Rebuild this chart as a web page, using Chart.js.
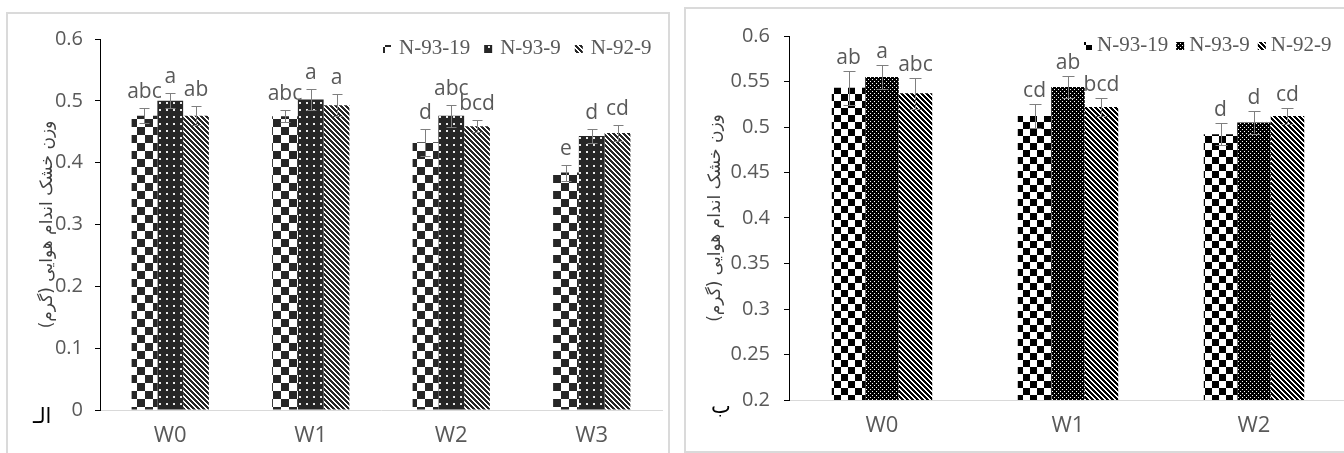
<!DOCTYPE html>
<html lang="fa">
<head>
  <meta charset="UTF-8" />
  <title>وزن خشک اندام هوایی</title>
  <script src="https://cdn.jsdelivr.net/npm/chart.js@4"></script>
  <style>
    body { margin: 0; background: #fff; width: 1344px; height: 453px; overflow: hidden; position: relative; }
    .frame { position: absolute; border: 2px solid #dadada; background: #fff; }
    #frameA { left: 6px; top: 12px; width: 660px; height: 460px; }
    #frameB { left: 684px; top: 7px; width: 700px; height: 442px; }
    canvas { position: absolute; }
    #chartA { left: 9px; top: 15px; }
    #chartB { left: 687px; top: 10px; }
    .corner { position: absolute; font-family: "DejaVu Sans", sans-serif; font-size: 21px; color: #000; }
  </style>
</head>
<body>
  <div class="frame" id="frameA"></div>
  <div class="frame" id="frameB"></div>
  <canvas id="chartA" width="659" height="438"></canvas>
  <canvas id="chartB" width="670" height="440"></canvas>
  <div class="corner" style="left:33px; top:404px;">الـ</div>
  <div class="corner" style="left:711px; top:394px;">ب</div>

  <script>
    const seriesNames = ["N-93-19", "N-93-9", "N-92-9"];
    const yTitle = "وزن خشک اندام هوایی (گرم)";

    // chart A (الف)
    const categoriesA = ["W0", "W1", "W2", "W3"];
    const a_n9319 = [0.476, 0.475, 0.433, 0.384];
    const a_n939  = [0.500, 0.502, 0.476, 0.443];
    const a_n929  = [0.476, 0.493, 0.459, 0.448];
    const a_err_n9319 = [0.012, 0.010, 0.022, 0.013];
    const a_err_n939  = [0.012, 0.017, 0.018, 0.011];
    const a_err_n929  = [0.015, 0.018, 0.010, 0.013];
    const a_let_n9319 = ["abc", "abc", "d", "e"];
    const a_let_n939  = ["a", "a", "abc", "d"];
    const a_let_n929  = ["ab", "a", "bcd", "cd"];
    const a_ticks = [0, 0.6, 0.1];

    // chart B (ب)
    const categoriesB = ["W0", "W1", "W2"];
    const b_n9319 = [0.543, 0.512, 0.492];
    const b_n939  = [0.555, 0.544, 0.505];
    const b_n929  = [0.537, 0.522, 0.512];
    const b_err_n9319 = [0.019, 0.013, 0.012];
    const b_err_n939  = [0.013, 0.012, 0.013];
    const b_err_n929  = [0.017, 0.010, 0.009];
    const b_let_n9319 = ["ab", "cd", "d"];
    const b_let_n939  = ["a", "ab", "d"];
    const b_let_n929  = ["abc", "bcd", "cd"];
    const b_ticks = [0.2, 0.6, 0.05];

    // pixel patterns (Excel-like fills)
    function makePattern(size, fn) {
      const c = document.createElement("canvas");
      c.width = c.height = size;
      const g = c.getContext("2d");
      const img = g.createImageData(size, size);
      for (let y = 0; y < size; y++) {
        for (let x = 0; x < size; x++) {
          const v = fn(x, y);
          const i = (y * size + x) * 4;
          img.data[i] = img.data[i + 1] = img.data[i + 2] = v;
          img.data[i + 3] = 255;
        }
      }
      g.putImageData(img, 0, 0);
      return g.createPattern(c, "repeat");
    }
    const checker = (cell, dark) => makePattern(cell * 2, (x, y) =>
      (Math.floor(x / cell) + Math.floor(y / cell)) % 2 === 0 ? dark : 255);
    const stripes = (p, w, dark) => makePattern(p, (x, y) =>
      (((x - y) % p) + p) % p < w ? dark : 255);

    const fillsA = [
      checker(8, 38),
      makePattern(7, (x, y) => (x >= 3 && x <= 4 && y >= 3 && y <= 4) ? 235 : 38),
      stripes(5, 3, 38)
    ];
    const fillsB = [
      checker(7, 0),
      makePattern(4, (x, y) => ((x === 1 && y === 1) || (x === 3 && y === 3)) ? 255 : 0),
      stripes(5, 3, 0)
    ];

    const errorBars = {
      id: "errorBars",
      afterDatasetsDraw(chart, args, o) {
        const { ctx } = chart;
        const y = chart.scales.y;
        chart.data.datasets.forEach((ds, i) => {
          const meta = chart.getDatasetMeta(i);
          meta.data.forEach((bar, j) => {
            const v = ds.data[j], e = o.errors[i][j];
            const yt = Math.round(y.getPixelForValue(v + e)) + 0.5;
            const yb = Math.round(y.getPixelForValue(v - e)) + 0.5;
            const x = Math.round(bar.x) + 0.5;
            ctx.save();
            ctx.strokeStyle = "#7f7f7f";
            ctx.lineWidth = 1;
            ctx.beginPath();
            ctx.moveTo(x, yt); ctx.lineTo(x, yb);
            ctx.moveTo(x - o.cap, yt); ctx.lineTo(x + o.cap, yt);
            ctx.moveTo(x - o.cap, yb); ctx.lineTo(x + o.cap, yb);
            ctx.stroke();
            ctx.fillStyle = "#595959";
            ctx.font = "21px 'Open Sans', sans-serif";
            ctx.textAlign = "center";
            ctx.textBaseline = "alphabetic";
            ctx.fillText(o.letters[i][j], bar.x, yt - o.gap);
            ctx.restore();
          });
        });
      }
    };

    const plotLegend = {
      id: "plotLegend",
      afterDraw(chart, args, o) {
        const { ctx } = chart;
        ctx.save();
        ctx.font = "21px 'Liberation Serif', serif";
        ctx.textBaseline = "middle";
        let x = o.left;
        chart.data.datasets.forEach(ds => {
          ctx.fillStyle = ds.backgroundColor;
          ctx.fillRect(x, o.y - 3, 8, 8);
          ctx.fillStyle = "#595959";
          ctx.fillText(ds.label, x + o.textGap, o.y);
          x += o.textGap + ctx.measureText(ds.label).width + o.spacing;
        });
        ctx.restore();
      }
    };

    function fmt(v) { return String(Number(v.toFixed(2))); }

    function buildChart(id, cats, series, fills, errors, letters, ticks, cfg) {
      return new Chart(document.getElementById(id), {
        type: "bar",
        data: {
          labels: cats,
          datasets: series.map((d, i) => ({
            label: seriesNames[i],
            data: d,
            backgroundColor: fills[i],
            borderWidth: 0,
            barPercentage: 1,
            categoryPercentage: cfg.catPct
          }))
        },
        plugins: [errorBars, plotLegend],
        options: {
          responsive: false,
          animation: false,
          devicePixelRatio: 1,
          layout: { padding: { left: 0, top: cfg.top, right: cfg.right, bottom: 0 } },
          plugins: {
            legend: { display: false },
            tooltip: { enabled: false },
            errorBars: { errors, letters, cap: cfg.cap, gap: cfg.gap },
            plotLegend: cfg.legend
          },
          scales: {
            x: {
              grid: { display: false, drawTicks: false },
              border: { color: "#d9d9d9", width: 1 },
              ticks: { color: "#595959", font: { family: "'Open Sans', sans-serif", size: 22 }, padding: cfg.xPad },
              afterFit: s => { s.height = cfg.xHeight; }
            },
            y: {
              min: ticks[0], max: ticks[1],
              grid: { drawOnChartArea: false, drawTicks: true, tickLength: 5, color: "#000" },
              border: { color: "#000", width: 1 },
              ticks: {
                stepSize: ticks[2], color: "#595959", padding: cfg.yPad,
                font: { family: "'Open Sans', sans-serif", size: 20 },
                callback: v => fmt(v)
              },
              title: {
                display: true, text: yTitle, color: "#404040",
                font: { family: "'DejaVu Sans', sans-serif", size: 17 },
                padding: { top: cfg.titlePad, bottom: 0 }
              },
              afterFit: s => { s.width = cfg.yWidth; }
            }
          }
        }
      });
    }

    buildChart("chartA", categoriesA, [a_n9319, a_n939, a_n929], fillsA,
      [a_err_n9319, a_err_n939, a_err_n929], [a_let_n9319, a_let_n939, a_let_n929], a_ticks,
      { catPct: 0.55, top: 20, right: 6, yWidth: 91, xHeight: 43, xPad: 13, yPad: 12, titlePad: 28,
        cap: 5, gap: 11, legend: { left: 374, y: 33, textGap: 16, spacing: 14 } });

    buildChart("chartB", categoriesB, [b_n9319, b_n939, b_n929], fillsB,
      [b_err_n9319, b_err_n939, b_err_n929], [b_let_n9319, b_let_n939, b_let_n929], b_ticks,
      { catPct: 0.54, top: 23, right: 10, yWidth: 102, xHeight: 50, xPad: 13, yPad: 14, titlePad: 18,
        cap: 6, gap: 8, legend: { left: 397, y: 35, textGap: 13, spacing: 8 } });
  </script>
</body>
</html>
